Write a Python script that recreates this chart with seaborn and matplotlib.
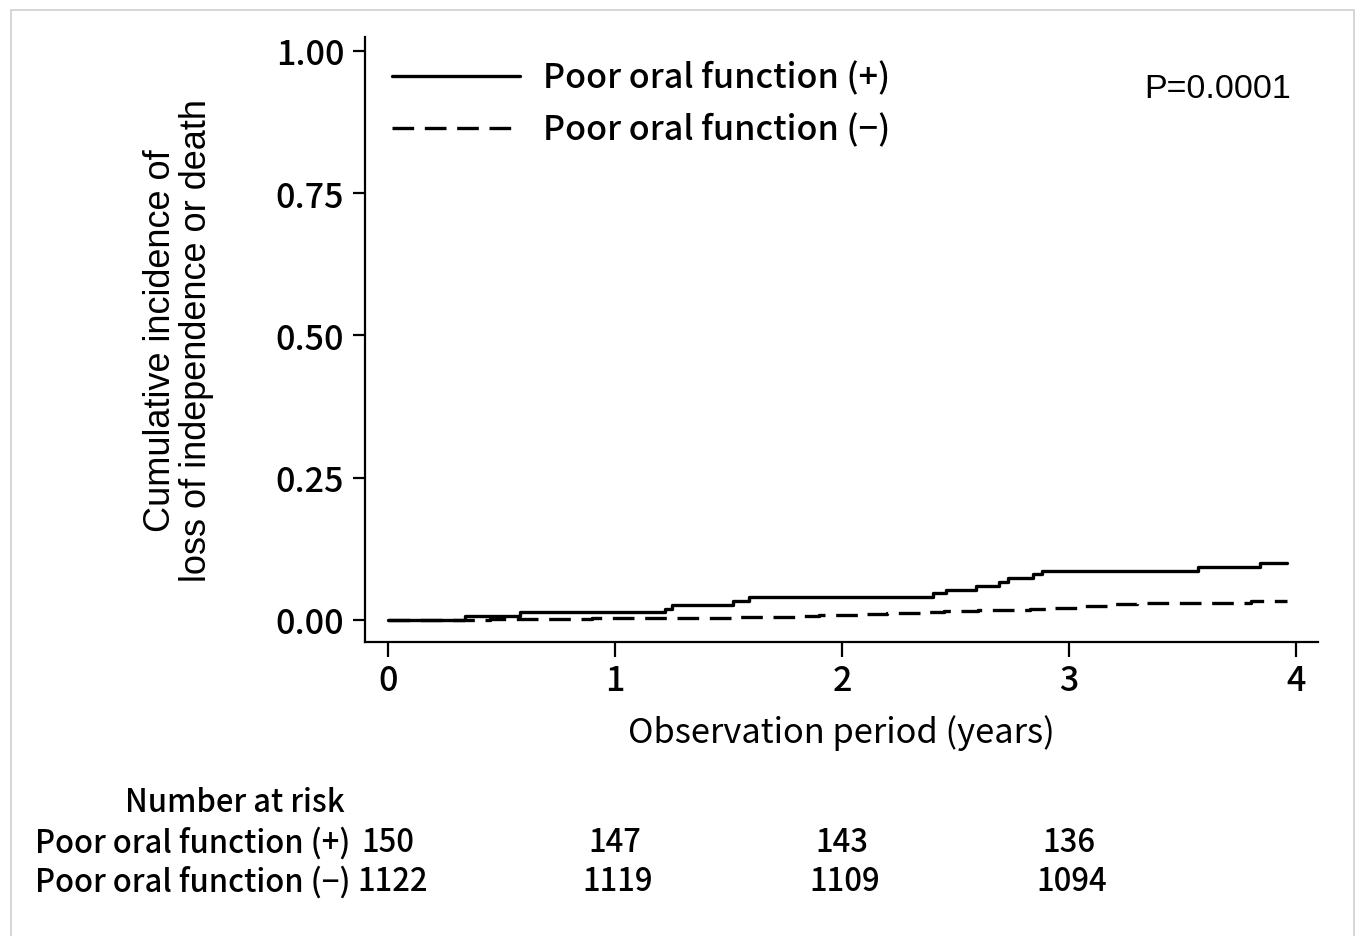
import pandas as pd
import seaborn as sns
import matplotlib.pyplot as plt
import matplotlib.transforms as mtransforms
from matplotlib.patches import Rectangle

# step curves (years, cumulative incidence)
pos_time = [0, 0.34, 0.58, 1.22, 1.25, 1.52, 1.59, 2.40, 2.46, 2.59, 2.69, 2.73, 2.84, 2.88, 3.57, 3.84, 3.96]
pos_inc = [0, 0.0067, 0.0133, 0.020, 0.0267, 0.0333, 0.040, 0.0467, 0.0533, 0.060, 0.0667, 0.0733, 0.080, 0.0867, 0.0933, 0.100, 0.100]
neg_time = [0, 0.45, 0.60, 0.90, 1.25, 1.55, 1.65, 1.80, 1.90, 2.00, 2.10, 2.20, 2.35, 2.45, 2.60, 2.83,
            2.90, 3.05, 3.10, 3.20, 3.30, 3.60, 3.80, 3.85, 3.96]
neg_inc = [0, 0.001, 0.002, 0.003, 0.004, 0.005, 0.006, 0.007, 0.008, 0.009, 0.011, 0.012, 0.014, 0.016,
           0.017, 0.020, 0.021, 0.024, 0.025, 0.028, 0.029, 0.030, 0.033, 0.034, 0.034]

groups = ["Poor oral function (+)", "Poor oral function (\u2212)"]
risk_times = [0, 1, 2, 3]
risk_pos = [150, 147, 143, 136]
risk_neg = [1122, 1119, 1109, 1094]
p_text = "P=0.0001"

sns.set_style("ticks", {"axes.edgecolor": "black", "text.color": "black", "axes.labelcolor": "black",
                        "xtick.color": "black", "ytick.color": "black"})
plt.rcParams["font.family"] = ["Noto Sans CJK JP", "DejaVu Sans"]
plt.rcParams["font.weight"] = "medium"
plt.rcParams["axes.linewidth"] = 1.6
arial = ["Liberation Sans", "DejaVu Sans"]

fig = plt.figure(figsize=(13.58, 9.37), dpi=100)
fig.patches.append(Rectangle((11 / 1358, -0.01), 1343 / 1358, 1 - 11 / 937 + 0.01,
                             transform=fig.transFigure, fill=False, edgecolor="#d0d0d0", linewidth=1.2))
ax = fig.add_axes([365 / 1358, 1 - 643 / 937, (1318 - 365) / 1358, (643 - 38) / 937])

df_pos = pd.DataFrame({"time": pos_time, "inc": pos_inc})
df_neg = pd.DataFrame({"time": neg_time, "inc": neg_inc})
sns.lineplot(data=df_pos, x="time", y="inc", ax=ax, color="black", lw=2.4,
             drawstyle="steps-post", estimator=None, label=groups[0], zorder=3)
sns.lineplot(data=df_neg, x="time", y="inc", ax=ax, color="black", lw=2.4,
             linestyle=(0, (6.5, 3.2)), drawstyle="steps-post", estimator=None, label=groups[1])

ax.set_xlim(-0.101, 4.097)
ax.set_ylim(-0.0387, 1.0246)
ax.set_xticks([0, 1, 2, 3, 4])
ax.set_yticks([0, 0.25, 0.5, 0.75, 1.0])
ax.set_yticklabels(["0.00", "0.25", "0.50", "0.75", "1.00"])
ax.tick_params(axis="both", labelsize=24.5, width=1.6, color="black", labelcolor="black")
ax.tick_params(axis="y", length=9, pad=6)
ax.tick_params(axis="x", length=11, pad=4)
sns.despine(ax=ax)

ax.set_xlabel("Observation period (years)", fontsize=24.8)
ax.xaxis.set_label_coords(0.5, -0.12)
ax.set_ylabel("Cumulative incidence of\nloss of independence or death", fontsize=26,
              family=arial, linespacing=1.05)
ax.yaxis.set_label_coords(-0.158, 0.5)

ax.legend(loc="upper left", bbox_to_anchor=(-0.004, 1.012), frameon=False, fontsize=24.6,
          handlelength=3.75, handletextpad=0.68, labelspacing=0.5)
ax.text(0.972, 0.915, p_text, transform=ax.transAxes, ha="right", va="center", fontsize=24.5,
        family=arial)

# number at risk table below the axes
trans = mtransforms.blended_transform_factory(ax.transData, fig.transFigure)
fig.text(235 / 1358, 1 - 803 / 937, "Number at risk", ha="center", va="center", fontsize=22.3)
fig.text(35 / 1358, 1 - 843 / 937, groups[0], ha="left", va="center", fontsize=22.3)
fig.text(35 / 1358, 1 - 882 / 937, groups[1], ha="left", va="center", fontsize=22.3)
for t, n in zip(risk_times, risk_pos):
    ax.text(t, 1 - 843 / 937, str(n), transform=trans, ha="center", va="center", fontsize=22.3)
for t, n in zip(risk_times, risk_neg):
    ax.text(t + (0.02 if t == 0 else 0.01), 1 - 882 / 937, str(n), transform=trans,
            ha="center", va="center", fontsize=22.3)

fig.savefig("out.png", dpi=100)
